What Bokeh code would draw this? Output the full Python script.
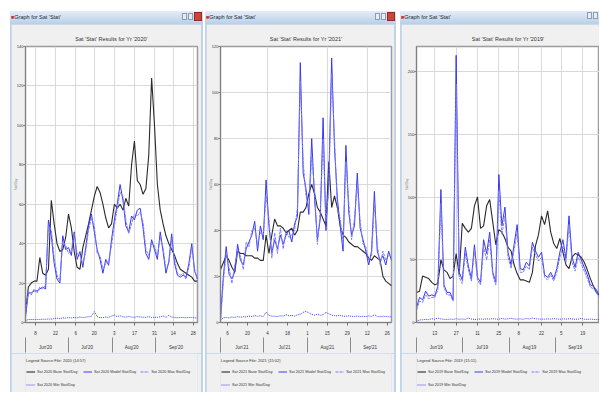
from bokeh.plotting import figure
from bokeh.models import (ColumnDataSource, FixedTicker, LinearAxis, Legend,
                          LegendItem, Div, Range1d)
from bokeh.layouts import row, column
from bokeh.embed import file_html
from bokeh.resources import INLINE

FONT = "Liberation Sans"

# ---------------- data ----------------
days = list(range(0, 121, 2))

# Panel 1 (2020)
p1_black = [5, 18, 20, 21, 21, 33, 25, 24, 27, 62,
            50, 40, 36, 37, 43, 55, 48, 36, 28, 27,
            38, 44, 50, 57, 64, 69, 66, 60, 53, 48,
            50, 60, 58, 60, 57, 63, 59, 80, 92, 72,
            70, 65, 68, 85, 124, 100, 70, 57, 50, 44,
            40, 37, 34, 30, 27, 26, 25, 24, 23, 21, 21]
p1_blue = [3, 15, 15, 16, 16, 17, 18, 17, 52, 44,
           30, 22, 20, 44, 37, 38, 34, 46, 32, 36,
           28, 38, 49, 55, 46, 37, 32, 25, 32, 29,
           42, 52, 60, 70, 62, 49, 46, 54, 52, 57,
           58, 48, 35, 32, 42, 37, 32, 46, 36, 25,
           31, 45, 30, 24, 23, 24, 23, 30, 40, 26, 22]
p1_dash = [4, 16, 14, 17, 15, 18, 17, 19, 49, 47,
           33, 24, 21, 41, 39, 35, 37, 45, 35, 34,
           30, 36, 47, 53, 49, 35, 34, 27, 30, 31,
           39, 49, 58, 66, 64, 52, 45, 50, 55, 54,
           56, 51, 37, 34, 40, 39, 34, 43, 38, 27,
           30, 42, 32, 25, 24, 25, 22, 28, 38, 27, 21]
p1_dot = [1, 1.5, 1.5, 1.5, 1.6, 1.5, 1.7, 1.6, 1.8, 1.7,
          2, 2.2, 1.9, 2.4, 2.2, 2.5, 2.3, 2.6, 2.4, 2.8,
          2.5, 2.7, 2.9, 3.2, 5.5, 3, 2.4, 2.5, 2.8, 2.6,
          3.2, 3.8, 3, 3.4, 2.9, 2.7, 3.1, 2.8, 2.6, 3,
          2.8, 2.7, 2.6, 3, 2.5, 2.7, 2.6, 2.9, 3.3, 2.6,
          3.6, 2.8, 2.5, 2.4, 2.6, 2.5, 2.4, 2.6, 2.5, 2.4, 2.3]

# Panel 2 (2021)
p2_black = [23, 26, 29, 27, 24, 22, 31, 30, 30, 29,
            29, 29, 28, 28, 27, 27, 38, 30, 38, 45,
            42, 42, 41, 39, 40, 41, 38, 40, 48, 48,
            50, 56, 60, 56, 50, 48, 45, 42, 70, 50,
            55, 50, 42, 38, 37, 35, 34, 33, 33, 32,
            31, 30, 28, 27, 29, 28, 27, 20, 18, 17, 16]
p2_blue = [2, 20, 33, 21, 19, 22, 34, 27, 25, 32,
           35, 38, 44, 31, 42, 36, 62, 42, 30, 36,
           32, 38, 34, 38, 40, 35, 43, 46, 113, 65,
           58, 47, 80, 54, 36, 45, 89, 40, 62, 115,
           76, 54, 42, 31, 77, 48, 38, 42, 65, 41,
           36, 31, 25, 31, 57, 31, 27, 29, 25, 31, 27]
p2_dash = [0, 18, 30, 24, 17, 25, 31, 29, 23, 35,
           33, 40, 41, 34, 39, 38, 55, 45, 28, 39,
           30, 41, 32, 40, 37, 38, 40, 50, 105, 70,
           55, 50, 72, 58, 34, 48, 80, 44, 58, 108,
           80, 50, 45, 34, 70, 52, 36, 45, 60, 44,
           34, 33, 27, 29, 52, 34, 25, 31, 27, 29, 30]
p2_dot = [1, 2, 2.2, 2, 2.4, 2.2, 2.6, 2.3, 2.5, 2.4,
          2.8, 2.6, 3, 2.7, 2.9, 2.6, 4.5, 3, 2.8, 2.7,
          2.6, 2.9, 2.8, 3.4, 2.9, 3.1, 2.8, 3.3, 3.6, 4.4,
          4.8, 4.2, 3.5, 3.2, 3.6, 3.1, 3.4, 4.4, 3.8, 3.2,
          3, 2.9, 3.1, 2.8, 2.7, 2.9, 2.7, 2.6, 2.8, 2.6,
          2.7, 2.5, 2.9, 2.6, 3.4, 2.6, 2.5, 2.7, 2.6, 2.5, 2.5]

# Panel 3 (2019)
p3_black = [24, 25, 37, 36, 35, 32, 30, 31, 50, 42,
            40, 35, 37, 55, 38, 79, 75, 72, 75, 93,
            100, 75, 77, 93, 98, 80, 62, 74, 72, 67,
            60, 57, 46, 39, 34, 34, 33, 32, 40, 61,
            70, 85, 78, 89, 72, 63, 59, 67, 56, 46,
            43, 52, 55, 54, 52, 48, 42, 35, 29, 24, 22]
p3_blue = [12, 20, 18, 25, 21, 22, 21, 29, 106, 30,
           24, 24, 18, 213, 40, 34, 60, 45, 35, 62,
           36, 32, 66, 55, 72, 40, 32, 118, 77, 92,
           56, 46, 62, 78, 43, 42, 48, 45, 64, 57,
           52, 56, 38, 36, 40, 35, 43, 56, 66, 51,
           85, 52, 44, 56, 50, 44, 38, 30, 29, 26, 21]
p3_dash = [10, 17, 16, 22, 19, 20, 20, 26, 95, 28,
           22, 22, 17, 190, 36, 31, 55, 42, 33, 58,
           34, 30, 60, 50, 66, 38, 30, 105, 70, 85,
           52, 43, 58, 72, 40, 40, 45, 42, 60, 54,
           49, 52, 36, 34, 38, 33, 40, 52, 61, 48,
           78, 48, 41, 52, 47, 41, 35, 28, 27, 24, 19]
p3_dot = [1, 2, 2.2, 2.5, 2.3, 3, 2.6, 3.5, 2.8, 2.6,
          2.4, 2.7, 2.5, 3, 2.6, 2.8, 2.5, 3.6, 2.7, 2.5,
          2.6, 2.8, 2.6, 2.9, 2.7, 3.1, 2.8, 2.6, 3.2, 2.7,
          2.9, 3.4, 2.8, 2.7, 2.9, 2.6, 3.2, 2.8, 3.5, 3,
          2.8, 2.7, 2.6, 2.9, 2.7, 3.1, 2.8, 2.6, 2.9, 2.7,
          3, 2.8, 2.6, 2.7, 3.2, 2.6, 2.5, 2.7, 2.5, 2.4, 2.2]

# axes / ticks
p1_yticks = [0, 20, 40, 60, 80, 100, 120, 140]
p2_yticks = [0, 20, 40, 60, 80, 100, 120]
p3_yticks = [0, 50, 100, 150, 200]

p1_tick_days = [7, 21, 35, 48, 62, 76, 90, 103, 117]
p1_tick_labels = ["8", "22", "6", "20", "3", "17", "31", "14", "28"]
p2_tick_days = [5, 19, 33, 47, 61, 75, 89, 103, 117]
p2_tick_labels = ["6", "20", "4", "18", "1", "15", "29", "12", "26"]
p2_grid_days = [33, 75, 103]
p3_tick_days = [12, 26, 40, 54, 67, 82, 95, 109]
p3_tick_labels = ["13", "27", "11", "25", "8", "22", "5", "19"]

month_start_days = [0, 30, 61, 91]
p1_month_days = [14, 43, 74, 105]
p2_month_days = [15, 45, 75, 105]
p3_month_days = [13, 43, 74, 104]
p1_months = ["Jun'20", "Jul'20", "Aug'20", "Sep'20"]
p2_months = ["Jun'21", "Jul'21", "Aug'21", "Sep'21"]
p3_months = ["Jun'19", "Jul'19", "Aug'19", "Sep'19"]

series_names = ["Base Stat/Day", "Model Stat/Day", "Max Stat/Day", "Min Stat/Day"]
series_cols = ["black", "blue", "dash", "dot"]

LINE_STYLES = [dict(line_color="#2a2a2a", line_width=1.1),
               dict(line_color="#3838f2", line_width=1),
               dict(line_color="#7c7cff", line_width=1, line_dash="3 1"),
               dict(line_color="#3a3aff", line_width=1, line_dash="1 1")]


def titlebar(text, width, close=True):
    btn = ("<span style='display:inline-block;width:5px;height:7px;margin-left:1px;"
           "background:#e6edf5;border:1px solid #8c9db3;'></span>")
    red = ("<span style='display:inline-block;width:8px;height:9px;margin-left:1px;"
           "background:#c8463a;border:1px solid #8e2a22;'></span>")
    html = (f"<div style='position:relative;width:{width}px;height:13px;'>"
            f"<span style='position:absolute;left:1px;top:3px;font-size:5.5px;"
            f"font-family:{FONT};color:#1c2838;white-space:nowrap;'>"
            f"<span style='color:#d03030;'>&#9632;</span>{text}</span>"
            f"<span style='position:absolute;right:1px;top:1px;display:flex;"
            f"align-items:center;'>{btn}{btn}{red if close else ''}</span></div>")
    return Div(text=html, width=width, height=13, margin=0,
               styles={"background": "linear-gradient(#e4edf7, #b9cfe8)",
                       "overflow": "hidden"})


def chart(title, ymax, yticks, xmax, tick_days, tick_labels, grid_days,
          month_days, months, src, fw, fmargin, mbl, mbr):
    p = figure(width=fw, height=329, x_range=Range1d(0, xmax),
               y_range=Range1d(0, ymax), output_backend="svg",
               toolbar_location=None, min_border_left=mbl,
               min_border_right=mbr, min_border_top=22, min_border_bottom=31,
               background_fill_color="white", border_fill_color="#f0f0f0",
               outline_line_color="#9c9c9c", outline_line_width=1.5,
               margin=fmargin)
    p.title.text = title
    p.title.align = "center"
    p.title.text_font = FONT
    p.title.text_font_size = "5.5px"
    p.title.text_font_style = "normal"
    p.title.text_color = "#333333"
    p.title.standoff = 9

    for col, st in zip(series_cols, LINE_STYLES):
        p.line("day", col, source=src, **st)

    p.xgrid.ticker = FixedTicker(ticks=grid_days)
    p.ygrid.ticker = FixedTicker(ticks=yticks)
    p.grid.grid_line_color = "#d9d9d9"
    p.grid.grid_line_width = 1

    ya = p.yaxis[0]
    ya.ticker = FixedTicker(ticks=yticks)
    ya.major_label_text_font = FONT
    ya.major_label_text_font_size = "4px"
    ya.major_label_text_color = "#333333"
    ya.major_tick_out = 2
    ya.major_tick_in = 0
    ya.major_label_standoff = 0
    ya.minor_tick_line_color = None
    ya.axis_line_color = "#808080"
    ya.major_tick_line_color = "#808080"
    ya.axis_label = "Stat/Day"
    ya.axis_label_text_font = FONT
    ya.axis_label_text_font_size = "3px"
    ya.axis_label_text_font_style = "normal"
    ya.axis_label_text_color = "#8a8a8a"
    ya.axis_label_standoff = -4

    xa = p.xaxis[0]
    xa.ticker = FixedTicker(ticks=tick_days)
    xa.major_label_overrides = {d: t for d, t in zip(tick_days, tick_labels)}
    xa.major_label_text_font = FONT
    xa.major_label_text_font_size = "4.5px"
    xa.major_label_text_color = "#333333"
    xa.major_tick_out = 3
    xa.major_tick_in = 0
    xa.major_label_standoff = 5
    xa.minor_tick_line_color = None
    xa.axis_line_color = "#808080"
    xa.major_tick_line_color = "#707070"

    ma = LinearAxis(ticker=FixedTicker(ticks=month_days, minor_ticks=month_start_days),
                    major_label_overrides={d: m for d, m in zip(month_days, months)},
                    major_tick_out=0, major_tick_in=0, minor_tick_out=15,
                    minor_tick_in=0, minor_tick_line_color="#8a8a8a",
                    axis_line_color=None, major_label_standoff=-8,
                    major_label_text_font=FONT, major_label_text_font_size="4.5px",
                    major_label_text_color="#333333")
    p.add_layout(ma, "below")
    return p


def legend_box(legend_title, year, src, fw, fmargin):
    # the legend sits in its own strip under the chart; its proxy lines use the
    # same data but an x window outside the data, so only the legend shows
    q = figure(width=fw, height=39, x_range=Range1d(-3, -2), y_range=Range1d(0, 1),
               output_backend="svg", toolbar_location=None,
               x_axis_location=None, y_axis_location=None,
               min_border_left=0, min_border_right=0, min_border_top=0,
               min_border_bottom=0, background_fill_color="#f0f0f0",
               border_fill_color="#f0f0f0", outline_line_color=None,
               margin=fmargin)
    q.grid.visible = False
    rs = [q.line("day", col, source=src, **st)
          for col, st in zip(series_cols, LINE_STYLES)]
    items = [LegendItem(label=f"Sat {year} {series_names[i]}", renderers=[r])
             for i, r in enumerate(rs)]
    leg = Legend(items=items, location=(1, 3), orientation="horizontal",
                 ncols=3, title=legend_title, title_text_font=FONT,
                 title_text_font_size="4px", title_text_font_style="normal",
                 title_text_color="#333333", title_standoff=4,
                 label_text_font=FONT, label_text_font_size="3.8px",
                 label_text_color="#333333", label_standoff=2,
                 label_height=9, label_width=42, glyph_width=9, glyph_height=5,
                 spacing=4, padding=0, margin=0, border_line_color=None,
                 background_fill_alpha=0)
    q.add_layout(leg, "center")
    return q


def source(black, blue, dash, dot):
    return ColumnDataSource(dict(day=days, black=black, blue=blue, dash=dash, dot=dot))


s1 = source(p1_black, p1_blue, p1_dash, p1_dot)
s2 = source(p2_black, p2_blue, p2_dash, p2_dot)
s3 = source(p3_black, p3_blue, p3_dash, p3_dot)

W1, W2, W3 = 193, 191, 199

f1 = chart("Sat 'Stat' Results for Yr '2020'", 140, p1_yticks, 120,
           p1_tick_days, p1_tick_labels, p1_tick_days, p1_month_days, p1_months,
           s1, W1 - 3, (0, 2, 0, 1), 11, 4)
f2 = chart("Sat 'Stat' Results for Yr '2021'", 120, p2_yticks, 120,
           p2_tick_days, p2_tick_labels, p2_grid_days, p2_month_days, p2_months,
           s2, W2 - 3, (0, 2, 0, 1), 10, 3)
f3 = chart("Sat 'Stat' Results for Yr '2019'", 220, p3_yticks, 120,
           p3_tick_days, p3_tick_labels, p3_tick_days, p3_month_days, p3_months,
           s3, W3 - 1, (0, 0, 0, 1), 15, 0)

g1 = legend_box("Legend Source File: 2020 (14:57)", "2020", s1, W1 - 3, (0, 2, 0, 1))
g2 = legend_box("Legend Source File: 2021 (15:02)", "2021", s2, W2 - 3, (0, 2, 0, 1))
g3 = legend_box("Legend Source File: 2019 (15:11)", "2019", s3, W3 - 1, (0, 0, 0, 1))

win_style = {"background-color": "#bfd3ea"}
c1 = column(titlebar("Graph for Sat 'Stat'", W1), f1, g1, width=W1, height=381,
            margin=(11, 0, 0, 10), styles=win_style)
c2 = column(titlebar("Graph for Sat 'Stat'", W2), f2, g2, width=W2, height=381,
            margin=(11, 0, 0, 2), styles=win_style)
c3 = column(titlebar("Graph for Sat 'Stat'", W3, close=False), f3, g3, width=W3,
            height=381, margin=(11, 0, 0, 4), styles=win_style)

layout = row(c1, c2, c3, width=599, height=392)

with open("out.html", "w") as fh:
    fh.write(file_html(layout, INLINE))
